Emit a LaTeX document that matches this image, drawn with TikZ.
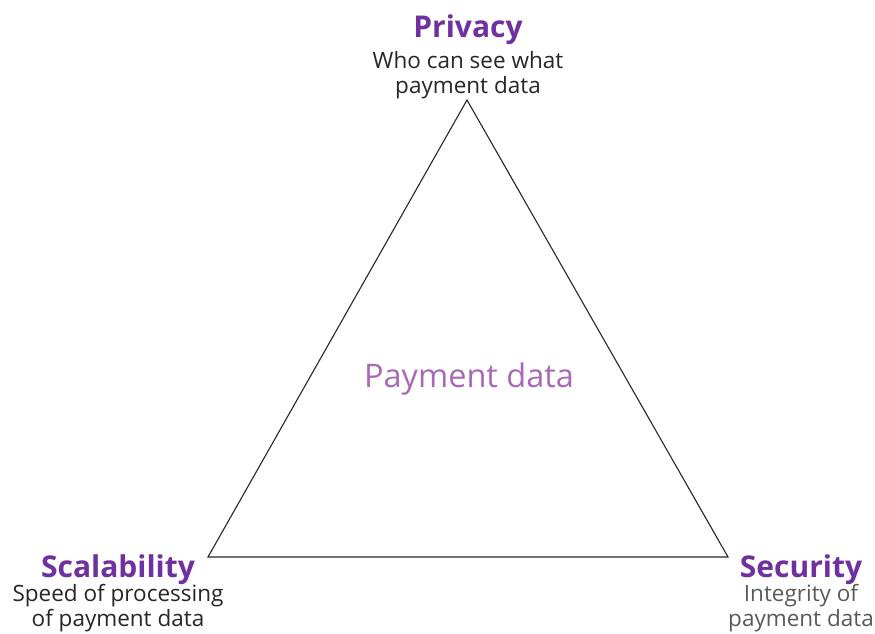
\documentclass[tikz,border=0pt]{standalone}
\usepackage{fontspec}
\setmainfont{Open Sans}
\definecolor{trioPurple}{RGB}{112,48,160}
\definecolor{trioLight}{RGB}{170,104,182}
\tikzset{
  corner title/.style={anchor=base, inner sep=0pt, text=trioPurple,
    font=\bfseries\fontsize{30}{32}\selectfont},
  corner text/.style={anchor=base, inner sep=0pt, align=center,
    font=\fontsize{22.5}{24.5}\selectfont},
}
\begin{document}
\begin{tikzpicture}[x=1pt,y=-1pt]
                \useasboundingbox (0,0) rectangle (875,633);

                \coordinate (top) at (467,100);
                \coordinate (left) at (208,557);
                \coordinate (right) at (728,557);

                \draw[line width=1.1pt, black!85] (top) -- (left) -- (right) -- cycle;

                % last line of each text sits on the given baseline
                \node[corner title] (privacy) at (468,37) {Privacy};
                \node[corner text, text=black!85] (privacytext) at (468,93)
                    {Who can see what\\payment data};

                \node[corner title] (scale) at (118,577) {Scalability};
                \node[corner text, text=black!85] (scaletext) at (118,626)
                    {Speed of processing\\of payment data};

                \node[corner title] (security) at (801,577) {Security};
                \node[corner text, text=black!65] (securitytext) at (801,626)
                    {Integrity of\\payment data};

                \node[anchor=base, inner sep=0pt, text=trioLight,
                    font=\fontsize{32.5}{34}\selectfont] (data) at (469,387) {Payment data};

            \end{tikzpicture}
\end{document}
